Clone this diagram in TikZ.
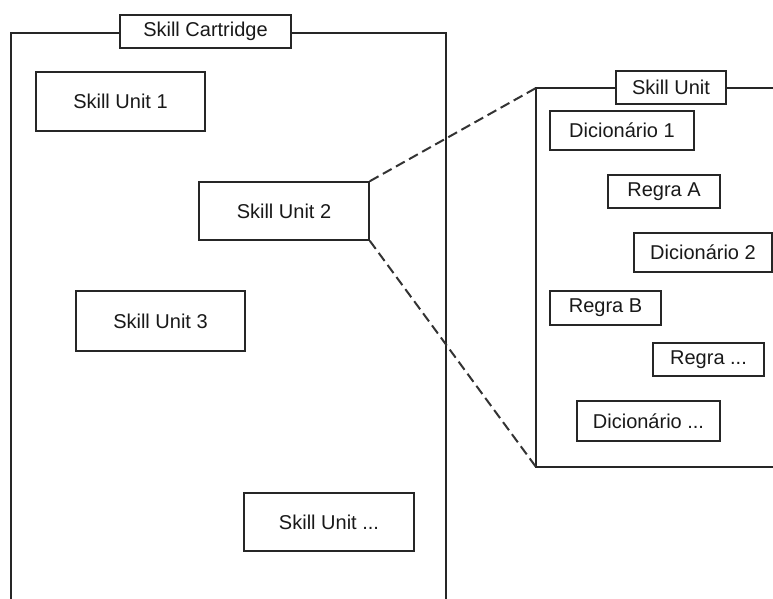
\documentclass[tikz,border=0pt]{standalone}
\usepackage{fontspec}
\setmainfont{Liberation Sans}
\begin{document}
\begin{tikzpicture}[x=1pt,y=-1pt,
  line width=1.5pt, draw=black!85,
  box/.style={draw=black!85, fill=white, inner sep=0pt, line width=1.6pt,
    font=\fontsize{20}{23}\selectfont, text=black!90},
  frame/.style={draw=black!85, line width=1.6pt},
  zoomline/.style={draw=black!80, line width=2pt, dash pattern=on 10pt off 5pt}]
  \useasboundingbox (0,0) rectangle (773,599);

  % Cartridge frame (open at the bottom)
  \coordinate (cbl) at (11,602);
  \coordinate (ctl) at (11,33);
  \coordinate (ctr) at (446,33);
  \coordinate (cbr) at (446,602);
  \draw[frame] (cbl) -- (ctl) -- (ctr) -- (cbr);
  \node[box, minimum width=171pt, minimum height=33pt] (cart) at (205.5,31.5) {Skill Cartridge};

  % Skill units inside the cartridge
  \node[box, minimum width=169pt, minimum height=59pt] (su1) at (120.5,101.5) {Skill Unit 1};
  \node[box, minimum width=170pt, minimum height=58pt] (su2) at (284,211) {Skill Unit 2};
  \node[box, minimum width=169pt, minimum height=60pt] (su3) at (160.5,321) {Skill Unit 3};
  \node[box, minimum width=170pt, minimum height=58pt] (sun) at (329,522) {Skill Unit ...};

  % Expanded skill unit (open at the right)
  \coordinate (utr) at (776,88);
  \coordinate (utl) at (536,88);
  \coordinate (ubl) at (536,467);
  \coordinate (ubr) at (776,467);
  \draw[frame] (utr) -- (utl) -- (ubl) -- (ubr);
  \node[box, minimum width=110pt, minimum height=33pt] (unit) at (671,87.5) {Skill Unit};

  \node[box, minimum width=144pt, minimum height=39pt] (d1) at (622,130.5) {Dicionário 1};
  \node[box, minimum width=112pt, minimum height=33pt] (ra) at (664,191.5) {Regra A};
  \node[box, minimum width=138pt, minimum height=39pt] (d2) at (703,252.5) {Dicionário 2};
  \node[box, minimum width=111pt, minimum height=34pt] (rb) at (605.5,308) {Regra B};
  \node[box, minimum width=111pt, minimum height=33pt] (rx) at (708.5,359.5) {Regra ...};
  \node[box, minimum width=143pt, minimum height=40pt] (dx) at (648.5,421) {Dicionário ...};

  % Zoom lines from Skill Unit 2 to its expansion
  \draw[zoomline] (su2.north east) -- (utl);
  \draw[zoomline] (su2.south east) -- (ubl);
\end{tikzpicture}
\end{document}
